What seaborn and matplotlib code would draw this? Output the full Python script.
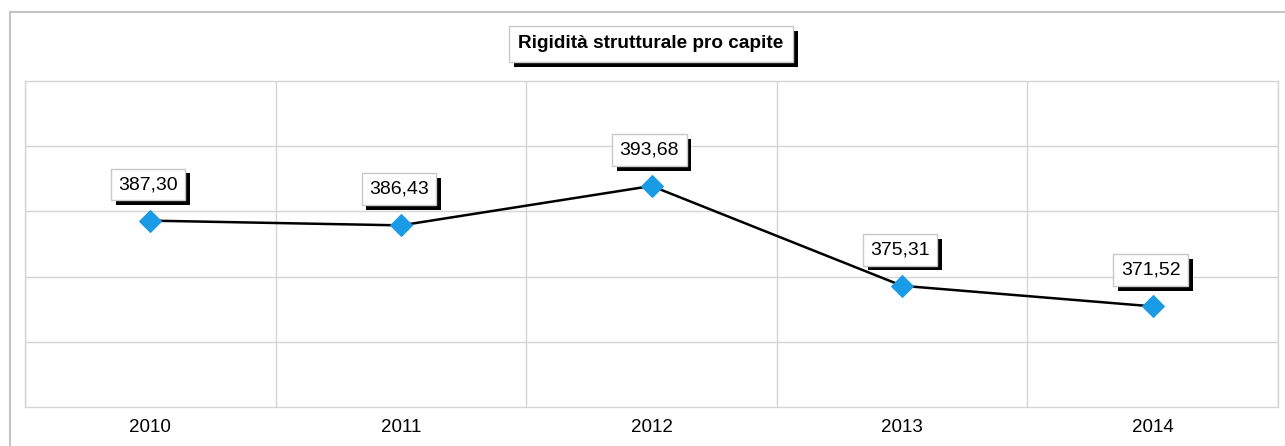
import matplotlib
matplotlib.use("Agg")
import matplotlib.pyplot as plt
import matplotlib.patheffects as pe
from matplotlib.patches import Rectangle
from matplotlib.ticker import FixedLocator
import seaborn as sns
import pandas as pd

anni = ["2010", "2011", "2012", "2013", "2014"]
valori = [387.30, 386.43, 393.68, 375.31, 371.52]
titolo = "Rigidità strutturale pro capite"
y_min, y_max, y_step = 353, 413, 12

sns.set_theme(style="white")
plt.rcParams["font.family"] = ["Liberation Sans", "DejaVu Sans"]

df = pd.DataFrame({"anno": anni, "valore": valori})

fig = plt.figure(figsize=(12.85, 4.46), dpi=100)
ax = fig.add_axes([25 / 1285, 39 / 446, (1278 - 25) / 1285, (407 - 81) / 446])

grid_c = "#d4d4d4"
blue = "#1a9be6"

sns.lineplot(data=df, x="anno", y="valore", ax=ax, color="black", linewidth=1.8,
             marker="D", markersize=11, markerfacecolor=blue, markeredgecolor=blue,
             sort=False, zorder=3)

ax.set_xlim(-0.5, len(anni) - 0.5)
ax.set_ylim(y_min, y_max)
ax.yaxis.set_major_locator(FixedLocator(list(range(y_min + y_step, y_max, y_step))))
ax.set_yticklabels([])
ax.tick_params(axis="y", length=0)
ax.grid(True, axis="y", color=grid_c, linewidth=1)
ax.xaxis.set_minor_locator(FixedLocator([i - 0.5 for i in range(len(anni) + 1)]))
ax.grid(True, axis="x", which="minor", color=grid_c, linewidth=1)
ax.grid(False, axis="x", which="major")
ax.tick_params(axis="x", which="major", length=0, labelsize=13.5, pad=9, labelcolor="black")
ax.tick_params(axis="x", which="minor", length=12, width=1, color=grid_c, direction="out")
ax.set_xlabel("")
ax.set_ylabel("")
for s in ax.spines.values():
    s.set_color(grid_c)
    s.set_linewidth(1)
    s.set_visible(True)

for i, v in enumerate(valori):
    t = ax.annotate(f"{v:.2f}".replace(".", ","), xy=(i, v), xytext=(-1.5, 26),
                    textcoords="offset points", ha="center", va="center",
                    fontsize=14, color="black", zorder=5,
                    bbox=dict(boxstyle="square,pad=0.38", fc="white", ec="#c8c8c8", lw=1))
    t.get_bbox_patch().set_path_effects([
        pe.SimplePatchShadow(offset=(3.5, -3.5), shadow_rgbFace="black", alpha=1),
        pe.Normal()])

tt = fig.text(651 / 1285, 1 - 44 / 446, titolo, ha="center", va="center",
              fontsize=13.7, fontweight="bold", color="black",
              bbox=dict(boxstyle="square,pad=0.5", fc="white", ec="#c8c8c8", lw=1))
tt.get_bbox_patch().set_path_effects([
    pe.SimplePatchShadow(offset=(3.5, -3.5), shadow_rgbFace="black", alpha=1),
    pe.Normal()])

frame = Rectangle((10 / 1285, -0.1), 1.2, 1.1 - 12 / 446, transform=fig.transFigure,
                  fill=False, ec="#c4c4c4", lw=1.5, zorder=0)
fig.patches.append(frame)

fig.savefig("out.png", dpi=100, facecolor="white")
